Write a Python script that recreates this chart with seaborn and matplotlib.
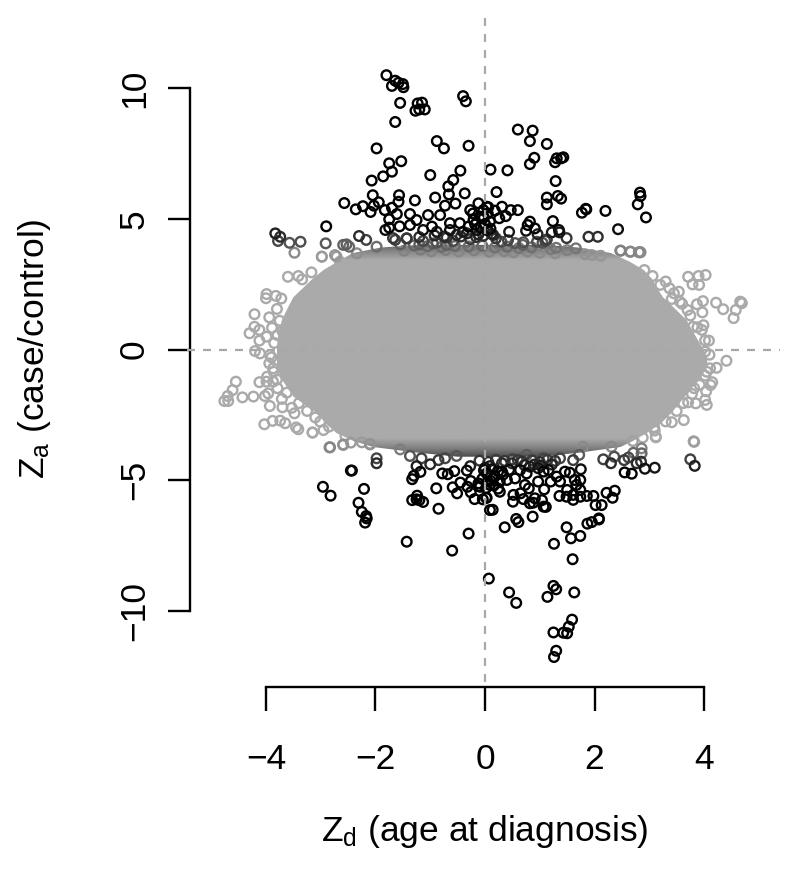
import numpy as np
import pandas as pd
import matplotlib
matplotlib.use("Agg")
import matplotlib.pyplot as plt
from matplotlib.colors import LinearSegmentedColormap, Normalize
from matplotlib.patches import Polygon
import seaborn as sns

# solid overplotted core of the cloud, one row per Z_a level
blob_y = [4.0, 3.9, 3.69, 3.35, 3.04, 2.7, 2.4, 2.0, 1.6, 1.13, 0.5, 0.0, -0.52, -1.05, -1.8, -2.44, -2.85, -3.2, -3.5, -3.73, -3.95, -4.1]
blob_left = [-1.2, -1.9, -2.41, -2.7, -2.95, -3.15, -3.3, -3.5, -3.6, -3.71, -3.78, -3.8, -3.8, -3.74, -3.5, -3.07, -2.9, -2.71, -2.4, -2.04, -1.2, -0.5]
blob_right = [1.1, 1.7, 2.3, 2.65, 2.9, 3.05, 3.13, 3.25, 3.45, 3.68, 3.85, 3.99, 4.07, 3.95, 3.65, 3.4, 3.2, 2.95, 2.7, 2.47, 1.7, 1.0]

top_x = [-1.80, -1.70, -1.64, -1.58, -1.50, -1.49, -1.55, -1.64, -1.27, -1.23, -1.15, -1.20, -1.10, -0.40, -0.35,
         -0.88, -0.75, -0.30, -1.98, -1.75, -1.53, -1.70, -1.86, -2.07, -1.00, -0.45, -0.58, -0.67, -0.66, -0.37,
         -0.91, -1.28, -1.57, -1.58, -2.05, -2.57, -2.36, -2.23, -2.09, -2.03, -1.94, -1.83, -1.70, -1.61, -1.75,
         -0.73, -0.54, -1.37, -2.90, -1.82, -1.75, -1.56, -2.30, -3.83, -3.74, -3.78, -3.57, -3.37, -3.48, -2.91,
         -2.59, -2.53, -2.48, -2.17,
         0.60, 0.87, 0.82, 1.13, 0.90, 0.82, 1.28, 1.31, 1.43, 1.39, 0.10, 0.41, 1.29, 0.21, 1.13, 1.13, 1.33, 1.39,
         1.77, 1.84, 1.85, 2.20, 2.83, 2.84, 2.79, 2.94, 2.43, 1.89, 2.06, 0.60, 0.47, 0.31, 0.18, 0.38, 0.26, 0.09,
         0.06, 0.82, 0.78, 0.75, 0.91, 0.96, 1.24, 1.22, 1.35, 1.36, 1.49, 0.44, 1.13, 1.10, 0.15]
top_y = [10.49, 10.08, 10.28, 10.20, 10.15, 10.03, 9.43, 8.70, 9.13, 9.41, 9.44, 9.18, 9.18, 9.69, 9.49,
         7.97, 7.69, 7.79, 7.69, 7.12, 7.20, 6.80, 6.62, 6.46, 6.67, 6.84, 6.48, 6.24, 5.93, 5.97,
         5.81, 5.70, 5.90, 5.65, 5.90, 5.60, 5.36, 5.48, 5.26, 5.50, 5.63, 5.33, 5.42, 5.18, 4.98,
         5.50, 5.58, 5.18, 4.71, 4.57, 4.66, 4.71, 4.34, 4.44, 4.31, 4.15, 4.08, 4.12, 3.70, 4.06,
         4.00, 4.02, 3.93, 4.19,
         8.41, 8.37, 7.97, 7.86, 7.33, 7.09, 7.16, 7.31, 7.35, 7.31, 6.88, 6.85, 6.44, 6.02, 5.81, 5.55, 5.87, 5.77,
         5.23, 5.38, 5.36, 5.30, 6.00, 5.87, 5.55, 5.05, 4.60, 4.31, 4.31, 5.33, 5.33, 5.46, 5.31, 5.10, 5.02, 4.89,
         5.44, 4.89, 4.76, 4.54, 4.63, 4.41, 4.91, 4.48, 4.57, 4.48, 4.26, 4.50, 4.21, 4.16, 4.38]

# dense dark band above the core
band_top_x = [-1.37, -1.25, -1.04, -0.82, -0.97, -0.64, -0.46, -0.27, -0.12, -0.03, -0.21, -0.09, 0.03, -1.68, -1.43,
              -1.13, -0.88, -0.64, -0.40, -0.15, -1.13, -0.88, -0.58, -0.27, -0.03, -0.30, -0.18, -0.08, 0.00, 0.05,
              -0.75, -0.52, -0.33, 0.10, 0.20, 0.30, 0.42, 0.55, 0.70, 0.95, 1.05, -0.22, -0.12, -0.02, 0.05,
              -1.55, -1.30, -1.05, -0.80, -0.55, -0.30, -0.05, 0.18, 0.40, 0.62, 0.85, 1.20,
              -1.48, -1.18, -0.98, -0.72, -0.48, -0.20, 0.08, 0.35, 0.52, 0.78, 1.00, 1.28,
              -1.20, -0.92, -0.70, -0.44, -0.16, 0.12]
band_top_y = [4.76, 4.95, 5.14, 5.14, 4.70, 4.83, 4.83, 5.33, 5.59, 5.33, 4.95, 5.08, 5.46, 4.26, 4.25,
              4.57, 4.50, 4.57, 4.50, 4.57, 4.15, 4.09, 4.15, 4.22, 4.35, 4.70, 4.78, 4.66, 4.80, 5.20,
              4.32, 4.38, 4.44, 4.62, 4.25, 4.12, 4.18, 4.07, 4.10, 4.12, 4.08, 5.20, 4.40, 5.05, 4.55,
              4.02, 3.98, 3.95, 3.92, 3.96, 3.94, 3.97, 3.90, 3.93, 3.88, 3.91, 3.84,
              3.78, 3.82, 3.76, 3.80, 3.75, 3.79, 3.74, 3.76, 3.72, 3.75, 3.70, 3.68,
              4.30, 4.36, 4.28, 4.32, 4.30, 4.42]

bottom_x = [-2.43, -2.45, -2.96, -2.82, -2.21, -2.31, -2.25, -2.17, -2.16, -2.19, -1.43, -0.60, -0.30, -0.85, -1.33,
            -1.24, -1.25, -1.20, -1.13, -0.89, -1.33, -1.30, -1.18, -1.25, -1.00, -0.78, -0.68, -0.56, -0.33, -0.27,
            -0.59, -0.51, -0.45, -0.26, -0.32, -0.12, -0.26, -0.19, -0.04, 0.03, 0.09, -1.98, -1.98, 0.03, 0.00, 0.05,
            0.07, 0.44, 0.57, 1.14, 1.25, 1.30, 1.63, 1.59, 1.53, 1.25, 1.43, 1.50, 1.30, 1.26, 1.60, 1.26, 1.57, 1.74,
            1.49, 1.87, 1.95, 2.08, 2.08, 0.36, 0.57, 0.61, 0.87, 0.14, 0.52, 0.51, 0.65, 0.70, 0.82, 0.91, 0.88, 1.04,
            1.07, 1.11, 1.36, 1.50, 1.49, 1.61, 1.61, 1.74, 1.74, 1.86, 1.98, 2.02, 2.13, 2.22, 2.37, 2.33, 1.75, 1.46,
            1.55, 1.64, 1.74, 1.67, 1.37, 1.31, 1.20, 1.08, 0.97, 0.80, 0.73, 0.55, 0.40, 0.27, 0.02, -0.09, 0.09, 0.15,
            0.27, 0.31, 0.64, 0.76, 1.16, 1.07, 0.97, 0.82, 0.49, 0.31, 0.09, 2.55, 2.68, 2.92, 3.10, 3.75, 3.83,
            -0.10, 0.06, 0.20, 0.36, 0.50, 0.68, 0.86, 1.00, 1.14, 1.28, -0.02, 0.12, 0.24, 0.44, 0.72, 0.90, 1.02, 1.22,
            -0.05, 0.10, 0.18, 0.33, -0.12, 0.02, 0.16, 0.24]
bottom_y = [-4.63, -4.63, -5.25, -5.59, -5.33, -5.86, -6.21, -6.37, -6.46, -6.62, -7.35, -7.69, -7.04, -6.09, -5.76,
            -5.59, -5.73, -5.76, -5.83, -5.31, -4.96, -4.83, -4.68, -4.46, -4.39, -4.74, -4.77, -4.65, -4.63, -4.46,
            -5.27, -5.50, -5.09, -5.03, -5.25, -5.22, -5.46, -5.72, -5.73, -5.67, -6.14, -4.16, -4.35, -4.74, -4.53, -5.05,
            -8.76, -9.29, -9.69, -9.46, -9.04, -9.17, -9.29, -10.33, -10.60, -10.82, -10.83, -10.85, -11.52, -11.76, -8.02, -7.43, -7.22, -7.13,
            -6.80, -6.66, -6.60, -6.46, -6.50, -6.80, -6.48, -6.60, -6.39, -6.13, -5.56, -5.82, -5.50, -5.72, -5.88, -5.69, -5.86, -5.76,
            -6.01, -6.02, -5.60, -5.37, -5.63, -5.75, -5.56, -5.37, -5.63, -5.60, -5.60, -5.95, -5.95, -5.48, -5.40, -5.67, -4.58, -4.67,
            -4.71, -4.99, -4.99, -5.18, -5.05, -4.86, -5.05, -5.35, -5.05, -5.31, -5.18, -4.93, -4.99, -5.44, -5.67, -5.25, -5.18, -4.93,
            -5.05, -4.67, -4.61, -4.74, -4.61, -4.67, -4.54, -4.48, -4.35, -4.35, -4.46, -4.70, -4.75, -4.56, -4.52, -4.20, -4.45,
            -4.25, -4.30, -4.22, -4.26, -4.20, -4.28, -4.24, -4.30, -4.22, -4.26, -4.62, -4.58, -4.66, -4.60, -4.42, -4.40, -4.44, -4.40,
            -4.95, -5.02, -4.85, -4.78, -5.12, -5.30, -5.20, -5.32]

# rings sticking out of the core on the left and right
left_x = [-3.60, -3.41, -3.34, -3.17, -2.98, -2.74, -2.65, -3.99, -4.00, -3.82, -4.21, -3.94, -4.21, -4.12, -4.30, -3.89,
          -4.12, -3.99, -3.79, -4.20, -4.11, -3.93, -3.94, -3.87, -4.55, -4.61, -4.70, -4.76, -4.69, -4.43, -4.23, -4.12,
          -3.98, -3.99, -3.87, -4.02, -3.96, -3.93, -3.71, -3.79, -3.70, -3.53, -3.48, -4.03, -3.88, -3.74, -3.65, -3.45,
          -3.41, -3.15, -2.95, -3.01, -2.83, -2.59, -2.45, -2.10]
left_y = [2.78, 2.81, 2.68, 2.95, 3.55, 3.61, 3.36, 2.12, 1.96, 2.05, 1.35, 1.23, 0.87, 0.75, 0.62, 0.83,
          0.34, 0.49, 0.55, -0.06, -0.15, -0.21, -0.53, -0.72, -1.23, -1.55, -1.78, -1.97, -1.97, -1.83, -1.80, -1.25,
          -1.04, -1.23, -1.23, -1.78, -1.68, -2.16, -1.89, -1.48, -2.21, -2.23, -2.44, -2.86, -2.73, -2.72, -2.82, -2.98,
          -3.05, -3.17, -3.08, -2.76, -3.74, -3.63, -3.56, -3.63]
right_x = [3.71, 3.90, 4.03, 3.79, 3.91, 3.20, 3.37, 3.54, 3.06, 2.91, 3.41, 3.56, 3.98, 3.87, 4.22, 4.35, 4.58, 4.54,
           4.68, 4.66, 4.69, 3.97, 3.70, 3.99, 3.80, 3.96, 4.09, 4.02, 4.41, 4.23, 4.11, 4.02, 4.15, 4.12, 4.04, 3.82,
           4.02, 4.05, 3.85, 3.71, 3.63, 3.41, 3.12, 3.09, 2.88, 3.81, 2.47, 2.81, 2.84, 2.65, 2.11]
right_y = [2.78, 2.81, 2.85, 2.49, 2.47, 2.47, 2.34, 2.21, 2.81, 3.04, 1.93, 1.83, 1.85, 1.73, 1.79, 1.54, 1.51, 1.20,
           1.80, 1.83, 1.77, 1.42, 1.51, 0.93, 0.87, 0.75, 0.34, -0.08, -0.43, -0.70, -0.72, -1.00, -1.25, -1.36, -1.60, -1.48,
           -1.93, -2.12, -2.06, -2.02, -2.70, -2.78, -3.36, -2.97, -3.37, -3.51, 3.78, 3.72, 3.72, 3.74, 3.58]

# rings along the upper and lower rim of the core
rim_x = [-1.64, -1.43, -1.98, -2.34, -2.71, -2.98, -1.20, -0.95, -0.70, 0.69, 1.30, 1.50, 1.66, 1.83, 1.95, 2.11, 2.48, 2.66, 2.83,
         -2.84, -3.15, -2.59, -2.10, -1.55, -1.37, -1.16, -0.85, -0.73, -0.52, 3.82, 3.12, 2.16, 2.30, 2.54, 2.77, 2.85, 2.86,
         2.71, 2.86, 2.36, 2.62, 1.37, 1.61, 1.72, 1.07, 0.76, 0.60, 1.79, 2.31,
         -3.72, -3.80, -3.75, -3.70, -3.85, -3.90, -3.86, -3.80, -3.62, -3.40, -3.25, -3.10, -2.85, -2.55, -2.25,
         3.30, 3.45, 3.60, 3.75, 3.88, 4.02, 4.10, 4.05, 3.92, 3.78, 3.62, 3.50, 3.30, 3.10, 2.70]
rim_y = [4.19, 4.25, 3.93, 3.68, 3.55, 3.55, 4.02, 4.05, 4.00, 4.00, 3.89, 3.80, 3.87, 3.64, 3.61, 3.58, 3.78, 3.74, 3.72,
         -3.74, -3.18, -3.65, -3.61, -3.82, -4.07, -4.16, -4.23, -4.16, -4.07, -3.53, -3.33, -4.20, -4.35, -4.23, -4.35, -4.29, -3.78,
         -3.95, -3.97, -4.10, -4.13, -4.16, -4.23, -4.03, -4.16, -4.03, -4.23, -3.72, -3.72,
         1.95, 1.55, 1.10, 0.70, 0.25, -0.30, -0.85, -1.15, -1.65, -2.05, -2.35, -2.60, -2.95, -3.30, -3.55,
         2.60, 2.15, 1.75, 1.30, 0.85, 0.35, -0.20, -0.85, -1.35, -1.70, -2.05, -2.35, -2.75, -3.10, -3.50]

x_ticks = [-4, -2, 0, 2, 4]
y_ticks = [-10, -5, 0, 5, 10]
x_labels = ["\u22124", "\u22122", "0", "2", "4"]
y_labels = ["\u221210", "\u22125", "0", "5", "10"]

sns.set_style("ticks")
plt.rcParams["font.family"] = ["Liberation Sans", "DejaVu Sans"]
plt.rcParams["mathtext.fontset"] = "custom"
plt.rcParams["mathtext.rm"] = "Liberation Sans"

df = pd.DataFrame({
    "zd": top_x + band_top_x + bottom_x + left_x + right_x + rim_x,
    "za": top_y + band_top_y + bottom_y + left_y + right_y + rim_y,
})
df["abs_za"] = df["za"].abs()
df = df.sort_values("abs_za")

# grey level follows |Z_a|
cmap = LinearSegmentedColormap.from_list("za_grey", ["#aaaaaa", "#aaaaaa", "#7a7a7a", "#333333", "#000000"], N=256)
za_norm = Normalize(3.0, 4.7)

fig = plt.figure(figsize=(8, 8.74), dpi=100)
ax = fig.add_axes([0, 0, 1, 1])
ax.patch.set_visible(False)
xlim = (-8.858, 5.753)
ylim = (-20.057, 13.365)

# overplotted core: filled outline, shaded by |Z_a|
outline = np.column_stack([blob_left + blob_right[::-1], blob_y + blob_y[::-1]])
shade = np.abs(np.linspace(4.2, -4.2, 200)).reshape(-1, 1)
img = ax.imshow(shade, cmap=cmap, norm=za_norm, extent=(-5, 5, -4.2, 4.2), aspect="auto", zorder=1)
img.set_clip_path(Polygon(outline, closed=True, transform=ax.transData))

sns.scatterplot(data=df, x="zd", y="za", hue="abs_za", palette=cmap, hue_norm=za_norm,
                marker="o", legend=False, ax=ax, zorder=2)
pts = ax.collections[-1]
pts.set_edgecolors(pts.get_facecolors())
pts.set_facecolors("none")
pts.set_sizes([48])
pts.set_linewidths(1.7)

ax.plot([-5.44, 5.39], [0, 0], color="#a8a8a8", lw=1.6, ls=(0, (3.6, 3.6)), zorder=3)
ax.plot([0, 0], [12.68, -12.7], color="#a8a8a8", lw=1.6, ls=(0, (3.6, 3.6)), zorder=3)

ax.set_xlim(xlim)
ax.set_ylim(ylim)

ax.spines["top"].set_visible(False)
ax.spines["right"].set_visible(False)
ax.spines["left"].set_position(("data", -5.388))
ax.spines["bottom"].set_position(("data", -12.906))
ax.spines["left"].set_bounds(-10, 10)
ax.spines["bottom"].set_bounds(-4, 4)
ax.spines["left"].set_linewidth(1.7)
ax.spines["bottom"].set_linewidth(1.7)
ax.spines["left"].set_color("black")
ax.spines["bottom"].set_color("black")

ax.set_xticks(x_ticks, x_labels)
ax.set_yticks(y_ticks, y_labels)
ax.tick_params(axis="x", length=17, width=1.7, labelsize=25.5, pad=23, color="black", labelcolor="black")
ax.tick_params(axis="y", length=16, width=1.7, labelsize=25.5, pad=12, color="black", labelcolor="black", labelrotation=90)
for lab in ax.get_yticklabels():
    lab.set_va("center")

ax.set_xlabel(r"$\mathrm{Z_d}$ (age at diagnosis)", fontsize=25.5, color="black")
ax.set_ylabel(r"$\mathrm{Z_a}$ (case/control)", fontsize=25.5, color="black")
ax.xaxis.set_label_coords(0.606, 1 - 832 / 874)
ax.yaxis.set_label_coords(35 / 800, 1 - 349 / 874)
ax.xaxis.label.set_va("center")
ax.yaxis.label.set_va("center")

fig.savefig("out.png", dpi=100)
